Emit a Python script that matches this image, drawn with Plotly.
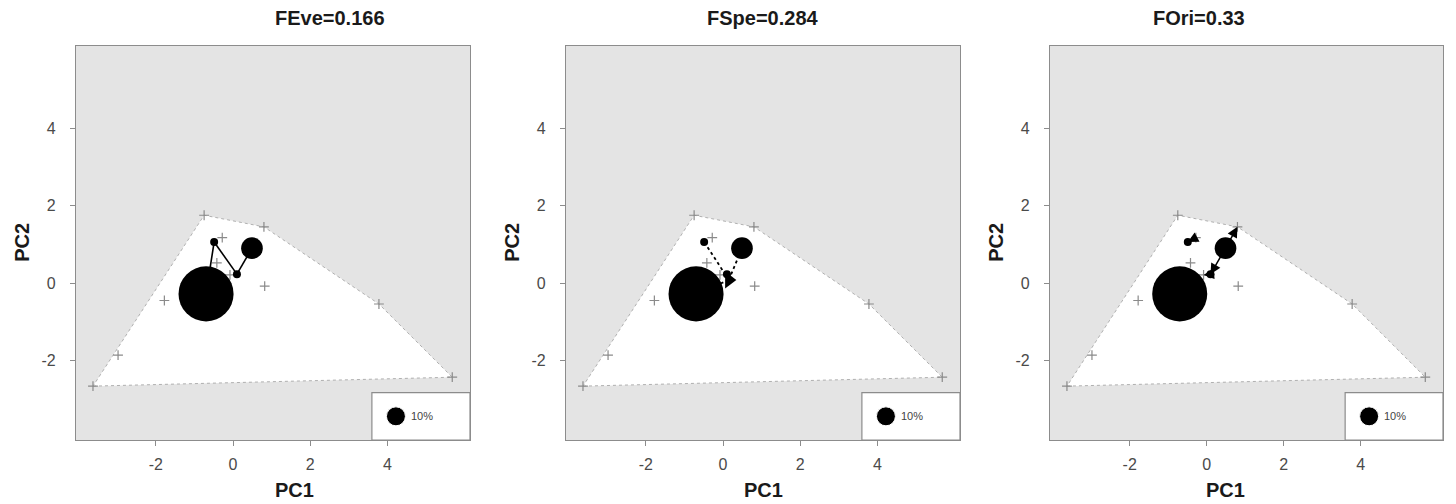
import plotly.graph_objects as go

# ---------------- data ----------------
panel_titles = ["FEve=0.166", "FSpe=0.284", "FOri=0.33"]

# species of the pool absent from the community (grey crosses)
absent_pc1 = [-3.63, -2.98, -1.78, -0.75, -0.28, -0.42, -0.08, 0.82, 0.80, 3.78, 5.68]
absent_pc2 = [-2.66, -1.86, -0.45, 1.75, 1.17, 0.52, 0.21, -0.08, 1.45, -0.54, -2.43]

# species present (black circles, area ~ relative abundance in %)
present_pc1 = [-0.70, 0.49, -0.49, 0.10]
present_pc2 = [-0.28, 0.90, 1.06, 0.23]
present_abund = [84.0, 13.0, 1.5, 1.5]

# FEve: minimum spanning tree edges (indices into present species)
mst_edges = [(0, 2), (2, 3), (3, 1)]

# FSpe: centre of gravity of the pool
cg_pc1 = [0.15]
cg_pc2 = [0.08]

# FOri: nearest-neighbour arrows (from -> to)
ori_from_pc1 = [0.49, 0.49, 0.10, -0.28]
ori_from_pc2 = [0.90, 0.90, 0.23, 1.17]
ori_to_pc1 = [0.80, 0.10, -0.08, -0.49]
ori_to_pc2 = [1.45, 0.23, 0.21, 1.06]

legend_abund = 10.0
legend_label = "10%"

x_ticks = [-2, 0, 2, 4]
y_ticks = [-2, 0, 2, 4]
tick_text = ["-2", "0", "2", "4"]

# ---------------- style ----------------
W, H = 1456, 504
xr = [-4.07, 6.14]
yr = [-4.05, 6.13]
panel_px = [(76, 470), (566, 960), (1050, 1443)]
top_px, bot_px = 45.5, 440
ydom = [1 - bot_px / H, 1 - top_px / H]
BG = "#e4e4e4"
FRAME = "#8c8c8c"
TICKC = "#4a4a4a"
FONT = "Liberation Sans, Arial, sans-serif"
sizeref = 2 * legend_abund / (19.0 ** 2)


def hull(xs, ys):
    pts = sorted(set(zip(xs, ys)))

    def cross(o, a, b):
        return (a[0] - o[0]) * (b[1] - o[1]) - (a[1] - o[1]) * (b[0] - o[0])

    lower, upper = [], []
    for p in pts:
        while len(lower) >= 2 and cross(lower[-2], lower[-1], p) <= 0:
            lower.pop()
        lower.append(p)
    for p in reversed(pts):
        while len(upper) >= 2 and cross(upper[-2], upper[-1], p) <= 0:
            upper.pop()
        upper.append(p)
    h = lower[:-1] + upper[:-1]
    h.append(h[0])
    return [p[0] for p in h], [p[1] for p in h]


all_x = absent_pc1 + present_pc1
all_y = absent_pc2 + present_pc2
hx, hy = hull(all_x, all_y)

fig = go.Figure()
annotations = []
shapes = []

for i in range(3):
    s = "" if i == 0 else str(i + 1)
    xa, ya = "x" + s, "y" + s
    # hull
    fig.add_trace(go.Scatter(x=hx, y=hy, xaxis=xa, yaxis=ya, mode="lines", fill="toself",
                             fillcolor="white", line=dict(color="#b0b0b0", width=1, dash="dot"),
                             hoverinfo="skip", showlegend=False))
    # absent species
    fig.add_trace(go.Scatter(x=absent_pc1, y=absent_pc2, xaxis=xa, yaxis=ya, mode="markers",
                             marker=dict(symbol="cross-thin", size=7, line=dict(color="#8a8a8a", width=1.2)),
                             showlegend=False))
    if i == 0:
        for a, b in mst_edges:
            fig.add_trace(go.Scatter(x=[present_pc1[a], present_pc1[b]], y=[present_pc2[a], present_pc2[b]],
                                     xaxis=xa, yaxis=ya, mode="lines",
                                     line=dict(color="black", width=1.6), showlegend=False))
    if i == 1:
        for k in range(len(present_pc1)):
            fig.add_trace(go.Scatter(x=[cg_pc1[0], present_pc1[k]], y=[cg_pc2[0], present_pc2[k]],
                                     xaxis=xa, yaxis=ya, mode="lines",
                                     line=dict(color="black", width=1.8, dash="dot"), showlegend=False))
        fig.add_trace(go.Scatter(x=cg_pc1, y=cg_pc2, xaxis=xa, yaxis=ya, mode="markers",
                                 marker=dict(symbol="triangle-right", size=15, color="black", opacity=1),
                                 showlegend=False))
    # present species
    fig.add_trace(go.Scatter(x=present_pc1, y=present_pc2, xaxis=xa, yaxis=ya, mode="markers",
                             marker=dict(size=present_abund, sizemode="area", sizeref=sizeref,
                                         sizemin=4, color="black", opacity=1, line=dict(width=0)),
                             showlegend=False))
    if i == 2:
        for fx, fy, tx, ty in zip(ori_from_pc1, ori_from_pc2, ori_to_pc1, ori_to_pc2):
            annotations.append(dict(x=tx, y=ty, ax=fx, ay=fy, xref=xa, yref=ya, axref=xa, ayref=ya,
                                    text="", showarrow=True, arrowhead=2, arrowsize=1.4,
                                    arrowwidth=1.5, arrowcolor="black"))
    # legend box
    shapes.append(dict(type="rect", xref=xa + " domain", yref=ya + " domain",
                       x0=0.751, x1=1.0, y0=0.0, y1=0.12,
                       fillcolor="white", line=dict(color=FRAME, width=1.2), layer="below"))
    lx = xr[0] + 0.812 * (xr[1] - xr[0])
    ly = yr[0] + 0.06 * (yr[1] - yr[0])
    fig.add_trace(go.Scatter(x=[lx], y=[ly], xaxis=xa, yaxis=ya, mode="markers",
                             marker=dict(size=[legend_abund], sizemode="area", sizeref=sizeref,
                                         color="black", opacity=1), showlegend=False))
    annotations.append(dict(x=lx + 0.33, y=ly, xref=xa, yref=ya, text=legend_label, showarrow=False,
                            xanchor="left", yanchor="middle", font=dict(size=11, color="#444444", family=FONT)))

    x0p, x1p = panel_px[i]
    xdom = [x0p / W, x1p / W]
    axis_common = dict(showgrid=False, zeroline=False, showline=True, mirror=True,
                       linecolor=FRAME, linewidth=1.3, ticks="outside", ticklen=5,
                       tickcolor=FRAME, tickwidth=1,
                       tickfont=dict(size=16, color=TICKC, family=FONT))
    fig.update_layout(**{
        "xaxis" + s: dict(domain=xdom, range=xr, tickvals=x_ticks, ticktext=tick_text, anchor=ya,
                          ticklabelstandoff=5, **axis_common),
        "yaxis" + s: dict(domain=ydom, range=yr, tickvals=y_ticks, ticktext=tick_text, anchor=xa,
                          ticklabelstandoff=11, **axis_common),
    })
    cx = (x0p + x1p) / 2 / W
    annotations.append(dict(x=cx, y=1 - 18 / H, xref="paper", yref="paper", yanchor="middle",
                            text="<b>%s</b>" % panel_titles[i],
                            showarrow=False, font=dict(size=20, color="#1a1a1a", family=FONT)))
    annotations.append(dict(x=cx, y=1 - 490 / H, xref="paper", yref="paper", yanchor="middle",
                            text="<b>PC1</b>",
                            showarrow=False, font=dict(size=20, color="#1a1a1a", family=FONT)))
    annotations.append(dict(x=(x0p - 54) / W, y=(ydom[0] + ydom[1]) / 2, xref="paper", yref="paper",
                            xanchor="center", yanchor="middle",
                            text="<b>PC2</b>", textangle=-90, showarrow=False,
                            font=dict(size=20, color="#1a1a1a", family=FONT)))

fig.update_layout(width=W, height=H, margin=dict(l=0, r=0, t=0, b=0),
                  paper_bgcolor="white", plot_bgcolor=BG, showlegend=False,
                  annotations=annotations, shapes=shapes)

fig.write_html("out.html", config={"displayModeBar": False},
               post_script="document.body.style.margin='0px';document.body.style.overflow='hidden';")
